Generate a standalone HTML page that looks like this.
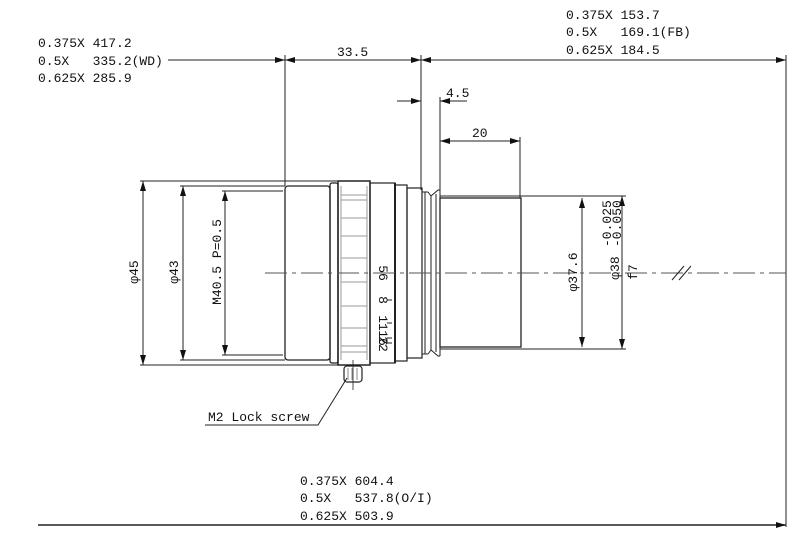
<!DOCTYPE html>
<html><head><meta charset="utf-8"><style>
html,body{margin:0;padding:0;background:#fff}
svg{display:block}
text{font-family:"Liberation Mono",monospace;font-size:13px;fill:#111;white-space:pre}
</style></head><body>
<svg width="800" height="537" viewBox="0 0 800 537" xmlns="http://www.w3.org/2000/svg" xml:space="preserve">
<defs>
<marker id="a" viewBox="0 0 10 6" refX="10" refY="3" markerWidth="10" markerHeight="6" orient="auto-start-reverse" markerUnits="userSpaceOnUse"><path d="M0,0 L10,3 L0,6 Z" fill="#111"/></marker>
</defs>
<text x="38" y="47">0.375X 417.2</text>
<text x="38" y="65">0.5X   335.2(WD)</text>
<text x="38" y="82">0.625X 285.9</text>
<text x="566" y="19">0.375X 153.7</text>
<text x="566" y="36">0.5X   169.1(FB)</text>
<text x="566" y="54">0.625X 184.5</text>
<text x="300" y="485">0.375X 604.4</text>
<text x="300" y="502">0.5X   537.8(O/I)</text>
<text x="300" y="520">0.625X 503.9</text>
<text x="337" y="56">33.5</text>
<text x="446" y="97">4.5</text>
<text x="472" y="137">20</text>
<text x="208" y="421">M2 Lock screw</text>

<g stroke="#222" stroke-width="1" fill="none">
<line x1="168" y1="60" x2="285" y2="60" marker-end="url(#a)"/>
<line x1="285" y1="60" x2="421" y2="60" marker-start="url(#a)" marker-end="url(#a)"/>
<line x1="421" y1="60" x2="786" y2="60" marker-start="url(#a)" marker-end="url(#a)"/>
<line x1="285" y1="55" x2="285" y2="186"/>
<line x1="421" y1="55" x2="421" y2="190"/>
<line x1="786" y1="55" x2="786" y2="527"/>
<line x1="397" y1="101" x2="421" y2="101" marker-end="url(#a)"/>
<line x1="440" y1="101" x2="467" y2="101" marker-start="url(#a)"/>
<line x1="440" y1="97" x2="440" y2="196"/>
<line x1="440" y1="141" x2="520" y2="141" marker-start="url(#a)" marker-end="url(#a)"/>
<line x1="520" y1="137" x2="520" y2="198"/>
<line x1="38" y1="525" x2="786" y2="525" marker-end="url(#a)" stroke-width="1.5"/>

<line x1="140" y1="181" x2="338" y2="181"/>
<line x1="140" y1="365" x2="338" y2="365"/>
<line x1="143" y1="181" x2="143" y2="365" marker-start="url(#a)" marker-end="url(#a)"/>
<line x1="180" y1="186" x2="285" y2="186"/>
<line x1="180" y1="360" x2="285" y2="360"/>
<line x1="183" y1="186" x2="183" y2="360" marker-start="url(#a)" marker-end="url(#a)"/>
<line x1="222" y1="191" x2="283" y2="191"/>
<line x1="222" y1="355" x2="283" y2="355"/>
<line x1="225" y1="191" x2="225" y2="355" marker-start="url(#a)" marker-end="url(#a)"/>

<rect x="285" y="186" width="45" height="174" rx="3" stroke-width="1.3"/>
<rect x="330" y="183" width="8" height="180" rx="2" stroke-width="1.3"/>
<rect x="338" y="181" width="32" height="184" stroke-width="1.5"/>
<g stroke="#999" stroke-width="1">
<line x1="341" y1="195" x2="367" y2="195"/><line x1="341" y1="200" x2="367" y2="200"/>
<line x1="341" y1="218" x2="367" y2="218"/><line x1="341" y1="236" x2="367" y2="236"/>
<line x1="341" y1="258" x2="367" y2="258"/><line x1="341" y1="282" x2="367" y2="282"/>
<line x1="341" y1="306" x2="367" y2="306"/><line x1="341" y1="328" x2="367" y2="328"/>
<line x1="341" y1="346" x2="367" y2="346"/><line x1="341" y1="352" x2="367" y2="352"/>
<line x1="341" y1="186" x2="341" y2="360"/><line x1="367" y1="186" x2="367" y2="360"/>
</g>
<rect x="370" y="183" width="25" height="180" stroke-width="1.2"/>
<line x1="395" y1="183" x2="395" y2="363" stroke-width="2"/>
<rect x="395" y="185" width="12" height="176" stroke-width="1.2"/>
<rect x="407" y="188" width="15" height="170" stroke-width="1.2"/>
<line x1="425" y1="192" x2="425" y2="354"/>
<path d="M428,192 L431,196 L431,350 L428,354" />
<path d="M422,192 L428,192 M422,354 L428,354"/>
<path d="M431,196 L438,190 L440,190 M431,350 L438,356 L440,356"/>
<line x1="436" y1="194" x2="436" y2="352"/>
<line x1="440" y1="190" x2="440" y2="356"/>
<rect x="440" y="198" width="81" height="149" stroke-width="1.3"/>
<line x1="440" y1="196" x2="626" y2="196"/>
<line x1="440" y1="349" x2="626" y2="349"/>
<line x1="582" y1="198" x2="582" y2="347" marker-start="url(#a)" marker-end="url(#a)"/>
<line x1="622" y1="196" x2="622" y2="349" marker-start="url(#a)" marker-end="url(#a)"/>

<line x1="387" y1="300" x2="392" y2="300"/>
<line x1="387" y1="323" x2="392" y2="323"/>
<line x1="387" y1="338" x2="392" y2="338"/>
<line x1="387" y1="343" x2="392" y2="343"/>

<rect x="344" y="366" width="18" height="16" rx="3" stroke-width="1.2"/>
<g stroke="#888"><line x1="348" y1="368" x2="348" y2="380"/><line x1="352" y1="368" x2="352" y2="380"/><line x1="357" y1="368" x2="357" y2="380"/></g>
<line x1="353" y1="360" x2="353" y2="390" stroke-width="0.8"/>
<polyline points="347,378 318,425 205,425"/>

<line x1="265" y1="273" x2="786" y2="273" stroke="#555" stroke-dasharray="22,5,4,5"/>
<line x1="672" y1="280" x2="684" y2="266"/>
<line x1="679" y1="280" x2="691" y2="266"/>
</g>

<text transform="translate(138,272) rotate(-90)" text-anchor="middle" font-size="14">φ45</text>
<text transform="translate(178,272) rotate(-90)" text-anchor="middle" font-size="14">φ43</text>
<text transform="translate(221,262) rotate(-90)" text-anchor="middle" font-size="14">M40.5 P=0.5</text>
<text transform="translate(577,272) rotate(-90)" text-anchor="middle" font-size="14">φ37.6</text>
<text transform="translate(619,268) rotate(-90)" text-anchor="middle" font-size="14">φ38</text>
<text transform="translate(611,247) rotate(-90)" font-size="11">-0.025</text>
<text transform="translate(621,247) rotate(-90)" font-size="11">-0.050</text>
<text transform="translate(637,272) rotate(-90)" text-anchor="middle" font-size="12">f7</text>
<text transform="translate(379,273) rotate(90)" text-anchor="middle" font-size="7">56</text>
<text transform="translate(379,300) rotate(90)" text-anchor="middle" font-size="7">8</text>
<text transform="translate(379,323) rotate(90)" text-anchor="middle" font-size="5">11</text>
<text transform="translate(379,338) rotate(90)" text-anchor="middle" font-size="4">16</text>
<text transform="translate(379,344) rotate(90)" text-anchor="middle" font-size="4">22</text>
</svg>
</body></html>
